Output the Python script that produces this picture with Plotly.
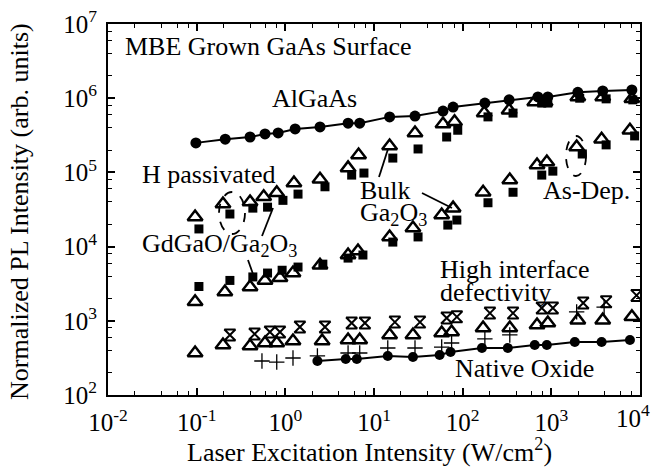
import plotly.graph_objects as go

# ---------------- data ----------------
alg_x = [0.098, 0.21, 0.40, 0.59, 0.83, 1.29, 2.46, 5.1, 6.9, 15, 29, 60, 78, 178, 334, 706, 913, 1990, 3800, 8100]
alg_y = [2.5e5, 2.8e5, 3.0e5, 3.3e5, 3.4e5, 3.85e5, 4.1e5, 4.6e5, 4.6e5, 5.6e5, 5.75e5, 6.7e5, 7.6e5,
         8.6e5, 9.5e5, 1.04e6, 1.04e6, 1.2e6, 1.25e6, 1.29e6]

hp_tri_x = [0.096, 0.198, 0.40, 0.57, 0.80, 1.25, 2.46, 5.1, 6.7, 15, 29, 60, 81, 175, 334, 650, 850, 1990, 3800, 8100]
hp_tri_y = [2.5e4, 3.75e4, 4.0e4, 4.7e4, 5.3e4, 7.2e4, 8.1e4, 1.15e5, 1.72e5, 2.27e5, 3.4e5, 4.5e5, 4.8e5,
            6.3e5, 6.9e5, 8.9e5, 8.9e5, 1.04e6, 1.04e6, 9.8e5]
hp_sq_x = [0.106, 0.237, 0.43, 0.63, 0.94, 1.39, 2.8, 5.6, 7.7, 16.3, 31.4, 66, 88, 193, 370, 780, 913, 2090, 4150, 8300]
hp_sq_y = [1.73e4, 2.75e4, 3.3e4, 3.4e4, 4.2e4, 5.1e4, 6.4e4, 9.2e4, 9.8e4, 1.56e5, 2.07e5, 3.0e5, 3.7e5,
           5.6e5, 6.3e5, 8.6e5, 8.6e5, 1.0e6, 9.8e5, 9.5e5]

ad_tri_x = [0.096, 0.208, 0.40, 0.59, 0.87, 1.22, 2.46, 5.1, 6.6, 15, 27.5, 58, 78, 170, 340, 690, 890, 1930, 3690, 7700]
ad_tri_y = [1.8e3, 2.44e3, 2.86e3, 3.5e3, 3.8e3, 4.4e3, 5.6e3, 7.7e3, 8.7e3, 1.35e4, 1.78e4, 2.67e4, 3.3e4,
            5.4e4, 7.9e4, 1.26e5, 1.38e5, 2.2e5, 2.8e5, 3.7e5]
ad_sq_x = [0.106, 0.237, 0.43, 0.63, 0.92, 1.39, 2.65, 5.1, 7.5, 16.3, 31.4, 68, 86, 193, 370, 780, 1040, 2230, 4150, 8700]
ad_sq_y = [2.9e3, 3.5e3, 3.9e3, 4.4e3, 4.8e3, 5.3e3, 5.8e3, 7.0e3, 7.7e3, 1.15e4, 1.35e4, 1.95e4, 2.28e4,
           3.9e4, 5.4e4, 9.2e4, 1.04e5, 1.77e5, 2.35e5, 3.1e5]

hi_tri_x = [0.096, 0.198, 0.40, 0.59, 0.80, 1.22, 2.6, 5.1, 6.9, 15, 27.5, 58, 75, 170, 340, 690, 913, 1990, 3800, 8100]
hi_tri_y = [368, 472, 457, 502, 502, 535, 535, 551, 551, 645, 645, 685, 707, 800, 800, 877, 933, 1020, 1020, 1130]
hi_x_x = [0.237, 0.45, 0.67, 0.87, 1.46, 2.8, 5.6, 7.9, 17.2, 33, 66, 86, 203, 370, 780, 1040, 2290, 4150, 9150]
hi_x_y = [645, 664, 707, 707, 824, 824, 933, 933, 960, 960, 1090, 1130, 1270, 1270, 1490, 1490, 1740, 1800, 2200]
hi_p_x = [0.545, 0.80, 1.22, 2.3, 5.1, 6.9, 14.3, 29, 58, 75, 178, 340, 1930, 3940]
hi_p_y = [287, 278, 315, 336, 368, 368, 430, 430, 443, 502, 569, 645, 1320, 1530]

nat_x = [2.3, 4.8, 6.4, 14.3, 27.5, 55, 73, 165, 323, 650, 890, 1840, 3690, 7700]
nat_y = [287, 306, 306, 336, 325, 346, 380, 430, 430, 472, 472, 518, 518, 551]

x_tickvals = [1e-2, 1e-1, 1e0, 1e1, 1e2, 1e3, 1e4]
x_ticktext = ["10<sup>-2</sup>", "10<sup>-1</sup>", "10<sup>0</sup>", "10<sup>1</sup>",
              "10<sup>2</sup>", "10<sup>3</sup>", "10<sup>4</sup>"]
y_tickvals = [1e2, 1e3, 1e4, 1e5, 1e6, 1e7]
y_ticktext = ["10<sup>2</sup>", "10<sup>3</sup>", "10<sup>4</sup>", "10<sup>5</sup>",
              "10<sup>6</sup>", "10<sup>7</sup>"]

# ---------------- layout geometry ----------------
W, H = 651, 468
L, R, T, B = 108, 640, 24, 395
FONT = "Liberation Serif, Times New Roman, serif"


def px(x):
    return (x - L) / (R - L)


def py(y):
    return (B - y) / (B - T)


fig = go.Figure()

blk = "black"
fig.add_trace(go.Scatter(x=alg_x, y=alg_y, mode="lines+markers",
                         line=dict(color=blk, width=2),
                         marker=dict(symbol="circle", size=11, color=blk)))
fig.add_trace(go.Scatter(x=nat_x, y=nat_y, mode="lines+markers",
                         line=dict(color=blk, width=2),
                         marker=dict(symbol="circle", size=10, color=blk)))
for xs, ys in [(hp_sq_x, hp_sq_y), (ad_sq_x, ad_sq_y)]:
    fig.add_trace(go.Scatter(x=xs, y=ys, mode="markers",
                             marker=dict(symbol="square", size=9, color=blk)))
for xs, ys in [(hp_tri_x, hp_tri_y), (ad_tri_x, ad_tri_y), (hi_tri_x, hi_tri_y)]:
    fig.add_trace(go.Scatter(x=xs, y=ys, mode="markers",
                             marker=dict(symbol="triangle-up-open", size=13, color=blk,
                                         line=dict(width=2.5, color=blk))))
fig.add_trace(go.Scatter(x=hi_x_x, y=hi_x_y, mode="markers",
                         marker=dict(symbol="hourglass-open", size=11, color=blk,
                                     line=dict(width=2, color=blk))))
fig.add_trace(go.Scatter(x=hi_p_x, y=hi_p_y, mode="markers",
                         marker=dict(symbol="cross-thin-open", size=11, color=blk,
                                     line=dict(width=1.3, color=blk))))


def minor_vals(lo, hi):
    out = []
    for e in range(lo, hi):
        for m in (2, 4, 6, 8):
            out.append(m * 10.0 ** e)
    return out


axis_common = dict(type="log", showgrid=False, zeroline=False, showline=True,
                   linecolor=blk, linewidth=2, mirror="allticks", ticks="inside",
                   ticklen=7, tickwidth=1.5, tickcolor=blk,
                   automargin=False, ticklabelstandoff=4,
                   tickfont=dict(family=FONT, size=25, color=blk))

# the last x label is drawn as a separate text pinned to the right edge (as in the reference)
fig.update_xaxes(**axis_common, range=[-2.0001, 4.0001], tickvals=x_tickvals,
                 ticktext=x_ticktext[:-1] + [""],
                 minor=dict(tickvals=minor_vals(-2, 4), ticks="inside", ticklen=4,
                            tickwidth=1.2, tickcolor=blk))
fig.update_yaxes(**axis_common, range=[1.9999, 7.0001], tickvals=y_tickvals, ticktext=y_ticktext,
                 minor=dict(tickvals=minor_vals(2, 7), ticks="inside", ticklen=4,
                            tickwidth=1.2, tickcolor=blk))

anns = []


def txt(text, xpix, ypix, xanchor="left", size=26):
    anns.append(dict(text=text, x=px(xpix), y=py(ypix), xref="paper", yref="paper",
                     xanchor=xanchor, yanchor="middle", showarrow=False,
                     font=dict(family=FONT, size=size, color=blk)))


txt("MBE Grown GaAs Surface", 123, 47)
txt("AlGaAs", 270, 99)
txt("H passivated", 140, 174)
txt("GdGaO/Ga<sub>2</sub>O<sub>3</sub>", 140, 245)
txt("Bulk", 358, 190)
txt("Ga<sub>2</sub>O<sub>3</sub>", 358, 214)
txt("As-Dep.", 541, 190)
txt("High interface", 438, 269)
txt("defectivity", 438, 292)
txt("Native Oxide", 453, 368)

anns.append(dict(text=x_ticktext[-1], x=px(651), y=py(399), xref="paper", yref="paper",
                 xanchor="right", yanchor="top", showarrow=False, borderpad=0,
                 font=dict(family=FONT, size=25, color=blk)))

# axis titles
anns.append(dict(text="Laser Excitation Intensity (W/cm<sup>2</sup>)", x=px(369), y=py(450),
                 xref="paper", yref="paper", xanchor="center", yanchor="middle",
                 showarrow=False, font=dict(family=FONT, size=26, color=blk)))
anns.append(dict(text="Normalized PL Intensity (arb. units)", x=px(20), y=py(212),
                 xref="paper", yref="paper", xanchor="center", yanchor="middle",
                 textangle=-90, showarrow=False, font=dict(family=FONT, size=26, color=blk)))

shapes = []


def seg(x0, y0, x1, y1):
    shapes.append(dict(type="line", xref="paper", yref="paper",
                       x0=px(x0), y0=py(y0), x1=px(x1), y1=py(y1),
                       line=dict(color=blk, width=1.8)))


seg(273, 208, 262, 236)
seg(248, 260, 253, 274)
seg(388, 149, 379, 177)
seg(422, 193, 452, 208)


def ell(cx, cy, rx, ry):
    shapes.append(dict(type="circle", xref="paper", yref="paper",
                       x0=px(cx - rx), x1=px(cx + rx), y0=py(cy + ry), y1=py(cy - ry),
                       line=dict(color=blk, width=1.8, dash="dash")))


ell(232, 213, 13, 21)
ell(576, 156, 10, 20)

fig.update_layout(width=W, height=H, margin=dict(l=L, r=W - R, t=T, b=H - B, autoexpand=False),
                  paper_bgcolor="white", plot_bgcolor="white", showlegend=False,
                  annotations=anns, shapes=shapes,
                  font=dict(family=FONT, color=blk))

fig.write_html("out.html")
